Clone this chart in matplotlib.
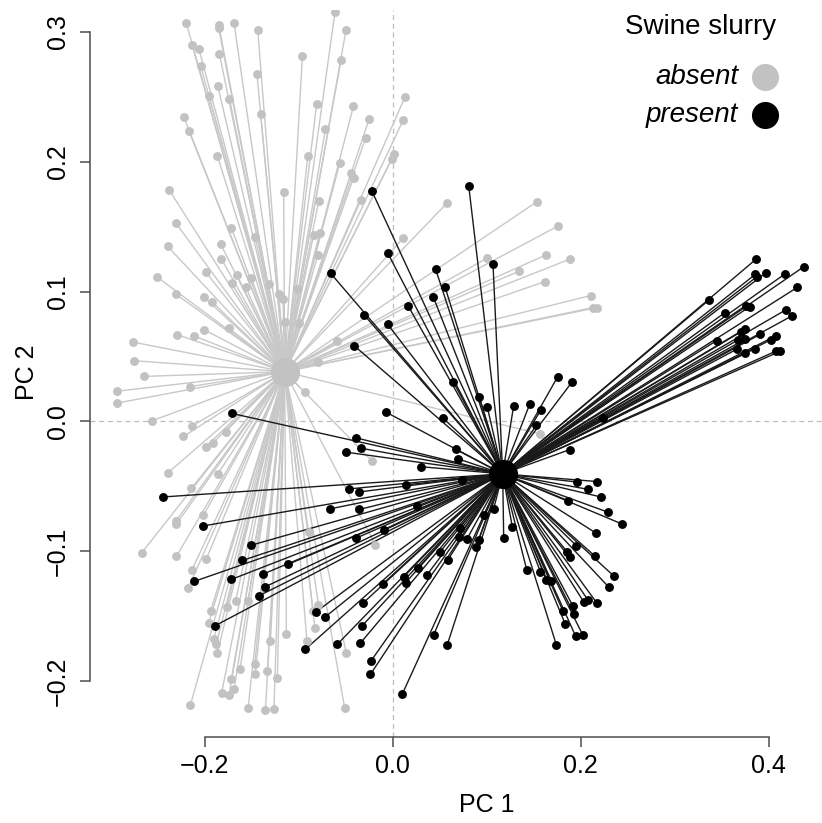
import numpy as np
import matplotlib
matplotlib.use("Agg")
import matplotlib.pyplot as plt
from matplotlib.lines import Line2D

plt.rcParams["font.family"] = ["Liberation Sans", "DejaVu Sans"]

# PCA site scores
absent_x = [
    -0.2195, -0.1851, -0.1851, -0.1688, -0.1436, -0.0614, -0.0497, -0.2135, -0.2061, -0.1844,
    -0.2043, -0.0961, -0.0550, -0.1444, -0.1862, -0.1954, -0.1737, -0.0809, -0.1404, -0.2223,
    -0.2167, -0.0716, -0.0904, -0.1865, -0.0564, -0.2380, -0.1160, -0.0787, -0.2305, -0.1716,
    -0.1465, -0.0840, -0.0777, -0.2394, -0.1830, 0.0131, -0.0418, 0.0110, -0.0252, -0.0287,
    0.0014, -0.0011, -0.0439, -0.0415, -0.0337, 0.0582, 0.1535, 0.1755, 0.0114, -0.1822,
    -0.0795, -0.1989, -0.1656, -0.1503, -0.1713, -0.1564, -0.1319, -0.1018, -0.2507, -0.2309,
    -0.2007, -0.1926, -0.1213, -0.1167, -0.1149, -0.0997, -0.2290, -0.2117, -0.2007, -0.1745,
    -0.2763, -0.2752, -0.2646, -0.2929, -0.2929, -0.2152, -0.0593, -0.0790, -0.0936, -0.2561,
    -0.2138, -0.2227, -0.1777, -0.1989, -0.1912, -0.2394, -0.1862, -0.2141, -0.2014, -0.2309,
    -0.2301, -0.2670, -0.2301, -0.1982, -0.2138, -0.2178, -0.1670, -0.1539, -0.1936, -0.1766,
    -0.1957, -0.1904, -0.1876, -0.1865, -0.1131, -0.1301, -0.0827, -0.0848, -0.0790, -0.0493,
    -0.0912, -0.1624, -0.1468, -0.1461, -0.1333, -0.1227, -0.1716, -0.1688, -0.1741, -0.1819,
    -0.2152, -0.1539, -0.1354, -0.1263, -0.0511, -0.0894, -0.0216, -0.0184, 0.1003, 0.1631,
    0.1883, 0.1344, 0.1617, 0.1564, 0.2106, 0.2131, 0.2173,
]
absent_y = [
    0.3067, 0.3057, 0.3030, 0.3069, 0.3018, 0.3152, 0.3012, 0.2901, 0.2870, 0.2834,
    0.2738, 0.2813, 0.2782, 0.2673, 0.2588, 0.2508, 0.2487, 0.2448, 0.2368, 0.2347,
    0.2236, 0.2252, 0.2044, 0.2047, 0.1988, 0.1786, 0.1770, 0.1698, 0.1527, 0.1491,
    0.1423, 0.1439, 0.1450, 0.1349, 0.1366, 0.2500, 0.2428, 0.2319, 0.2327, 0.2187,
    0.2057, 0.2019, 0.1915, 0.1879, 0.1708, 0.1685, 0.1693, 0.1504, 0.1415, 0.1252,
    0.1286, 0.1151, 0.1126, 0.1105, 0.1064, 0.1033, 0.1056, 0.1023, 0.1113, 0.0981,
    0.0957, 0.0924, 0.0978, 0.0947, 0.0763, 0.0759, 0.0668, 0.0660, 0.0707, 0.0720,
    0.0611, 0.0468, 0.0347, 0.0233, 0.0142, 0.0269, 0.0621, 0.0460, 0.0223, 0.0005,
    -0.0036, -0.0116, -0.0078, -0.0194, -0.0165, -0.0398, -0.0406, -0.0515, -0.0724, -0.0769,
    -0.0790, -0.1012, -0.1040, -0.1058, -0.1147, -0.1287, -0.1380, -0.1382, -0.1457, -0.1431,
    -0.1553, -0.1677, -0.1714, -0.1786, -0.1641, -0.1693, -0.1589, -0.1457, -0.1411, -0.1786,
    -0.1693, -0.1908, -0.1871, -0.1949, -0.1925, -0.1977, -0.1985, -0.2065, -0.2106, -0.2091,
    -0.2184, -0.2210, -0.2223, -0.2213, -0.2207, -0.0854, -0.0308, -0.0950, 0.1258, 0.1283,
    0.1250, 0.1157, 0.1077, -0.0095, 0.0970, 0.0877, 0.0877,
]

present_x = [
    -0.0220, 0.0809, -0.0660, -0.0053, 0.0457, 0.1067, 0.0556, 0.0433, 0.0167, -0.0305,
    -0.0053, -0.0412, 0.0646, 0.0922, 0.1007, 0.1287, 0.1457, 0.1755, 0.1907, 0.1578,
    0.1529, -0.0067, 0.0535, -0.0386, -0.0333, -0.0493, 0.0670, 0.0691, 0.0301, 0.1883,
    -0.1713, -0.2447, -0.2014, -0.1503, -0.1599, -0.1117, -0.1376, -0.2110, -0.1716, -0.1362,
    -0.1422, -0.0663, -0.0465, -0.1890, -0.0812, -0.0723, -0.0929, -0.0588, -0.0354, 0.0138,
    0.0734, -0.0354, 0.0255, -0.0093, -0.0386, 0.0713, 0.0705, 0.0790, 0.0915, 0.0883,
    0.0968, 0.1074, 0.1273, 0.1181, 0.0585, 0.0507, 0.0365, 0.0266, 0.0117, 0.0138,
    -0.0103, -0.0316, -0.0327, -0.0344, 0.0436, 0.0578, -0.0231, -0.0237, 0.0103, 0.1426,
    0.1571, 0.1635, 0.1688, 0.1869, 0.1957, 0.1812, 0.1918, 0.1929, 0.1837, 0.1947,
    0.1741, 0.1854, 0.1883, 0.1954, 0.2173, 0.2078, 0.2216, 0.2290, 0.2439, 0.2167,
    0.2156, 0.2351, 0.2298, 0.2032, 0.2078, 0.2173, 0.2024, 0.3862, 0.3859, 0.3876,
    0.3968, 0.4178, 0.4376, 0.4305, 0.3362, 0.3535, 0.3755, 0.3798, 0.4188, 0.4252,
    0.3447, 0.3702, 0.3745, 0.3673, 0.3752, 0.3907, 0.4082, 0.4024, 0.3667, 0.3752,
    0.3854, 0.4074, 0.4124, 0.2237,
]
present_y = [
    0.1773, 0.1814, 0.1141, 0.1297, 0.1172, 0.1214, 0.1038, 0.0957, 0.0887, 0.0821,
    0.0748, 0.0585, 0.0303, 0.0189, 0.0109, 0.0122, 0.0132, 0.0344, 0.0303, 0.0091,
    -0.0029, 0.0070, 0.0026, -0.0127, -0.0207, -0.0237, -0.0215, -0.0287, -0.0349, -0.0217,
    0.0062, -0.0582, -0.0805, -0.0953, -0.1071, -0.1102, -0.1175, -0.1232, -0.1217, -0.1276,
    -0.1343, -0.0673, -0.0520, -0.1574, -0.1465, -0.1509, -0.1755, -0.1716, -0.0543, -0.0489,
    -0.0453, -0.0678, -0.0652, -0.0833, -0.0898, -0.0821, -0.0887, -0.0906, -0.0914, -0.0970,
    -0.0724, -0.0673, -0.0813, -0.0901, -0.1069, -0.1002, -0.1182, -0.1131, -0.1198, -0.1242,
    -0.1250, -0.1400, -0.1576, -0.1708, -0.1644, -0.1726, -0.1845, -0.1949, -0.2099, -0.1144,
    -0.1157, -0.1221, -0.1227, -0.0611, -0.0466, -0.1462, -0.1423, -0.1481, -0.1563, -0.1656,
    -0.1721, -0.1002, -0.1048, -0.0957, -0.0463, -0.0523, -0.0582, -0.0699, -0.0790, -0.0862,
    -0.1040, -0.1190, -0.1276, -0.1390, -0.1377, -0.1400, -0.1648, 0.1248, 0.1134, 0.1116,
    0.1144, 0.1139, 0.1193, 0.1033, 0.0934, 0.0839, 0.0893, 0.0885, 0.0862, 0.0815,
    0.0623, 0.0689, 0.0712, 0.0627, 0.0634, 0.0670, 0.0662, 0.0629, 0.0559, 0.0526,
    0.0561, 0.0541, 0.0541, 0.0026,
]

# group centroids
absent_centroid = (-0.1149, 0.0383)
present_centroid = (0.1170, -0.0404)

groups = ["absent", "present"]
group_colors = {"absent": "#c2c2c2", "present": "#000000"}
line_colors = {"absent": "#c8c8c8", "present": "#1a1a1a"}

fig = plt.figure(figsize=(8.22, 8.23), dpi=100)
ax = fig.add_axes([0.1095, 0.1045, 0.8905, 0.8834])

ax.axhline(0, color="#bdbdbd", lw=0.9, ls=(0, (4, 3)), zorder=0)
ax.axvline(0, color="#bdbdbd", lw=0.9, ls=(0, (4, 3)), zorder=0)

data = {
    "absent": (absent_x, absent_y, absent_centroid),
    "present": (present_x, present_y, present_centroid),
}

# spider segments, site -> group centroid
for g in groups:
    xs, ys, (cx, cy) = data[g]
    for x, y in zip(xs, ys):
        ax.plot([cx, x], [cy, y], color=line_colors[g], lw=1.0,
                solid_capstyle="round", zorder=1 if g == "absent" else 2)

for g in groups:
    xs, ys, (cx, cy) = data[g]
    z = 3 if g == "absent" else 4
    ax.plot(xs, ys, "o", ms=6.4, mfc=group_colors[g], mec="none", zorder=z)
    ax.plot([cx], [cy], "o", ms=21, mfc=group_colors[g], mec="none", zorder=z)

ax.set_xlim(-0.322, 0.4567)
ax.set_ylim(-0.2431, 0.3170)

ax.set_xticks([-0.2, 0.0, 0.2, 0.4])
ax.set_xticklabels(["\u22120.2", "0.0", "0.2", "0.4"])
ax.set_yticks([-0.2, -0.1, 0.0, 0.1, 0.2, 0.3])
ax.set_yticklabels(["\u22120.2", "\u22120.1", "0.0", "0.1", "0.2", "0.3"],
                   rotation=90, va="center")

for side in ["top", "right"]:
    ax.spines[side].set_visible(False)
ax.spines["left"].set_bounds(-0.2, 0.3)
ax.spines["bottom"].set_bounds(-0.2, 0.4)
for side in ["left", "bottom"]:
    ax.spines[side].set_color("#4d4d4d")
    ax.spines[side].set_linewidth(1.1)
ax.tick_params(axis="both", length=7.5, width=1.1, color="#4d4d4d",
               labelsize=18, pad=5)
ax.tick_params(axis="y", pad=7)

ax.set_xlabel("PC 1", fontsize=18)
ax.set_ylabel("PC 2", fontsize=18)
ax.xaxis.set_label_coords(0.542, -0.077)
ax.yaxis.set_label_coords(-0.0697, 0.502)

# legend, laid out like the R original (labels right-aligned, keys after)
fig.text(0.944, 0.967, "Swine slurry", ha="right", va="center", fontsize=20)
for g, yf in zip(groups, [0.9064, 0.8603]):
    fig.text(0.898, yf, g, ha="right", va="center", fontsize=20, style="italic")
    fig.add_artist(Line2D([0.9307], [yf], transform=fig.transFigure, ls="none",
                          marker="o", ms=19.5, mfc=group_colors[g], mec="none"))

fig.savefig("out.png", dpi=100)
